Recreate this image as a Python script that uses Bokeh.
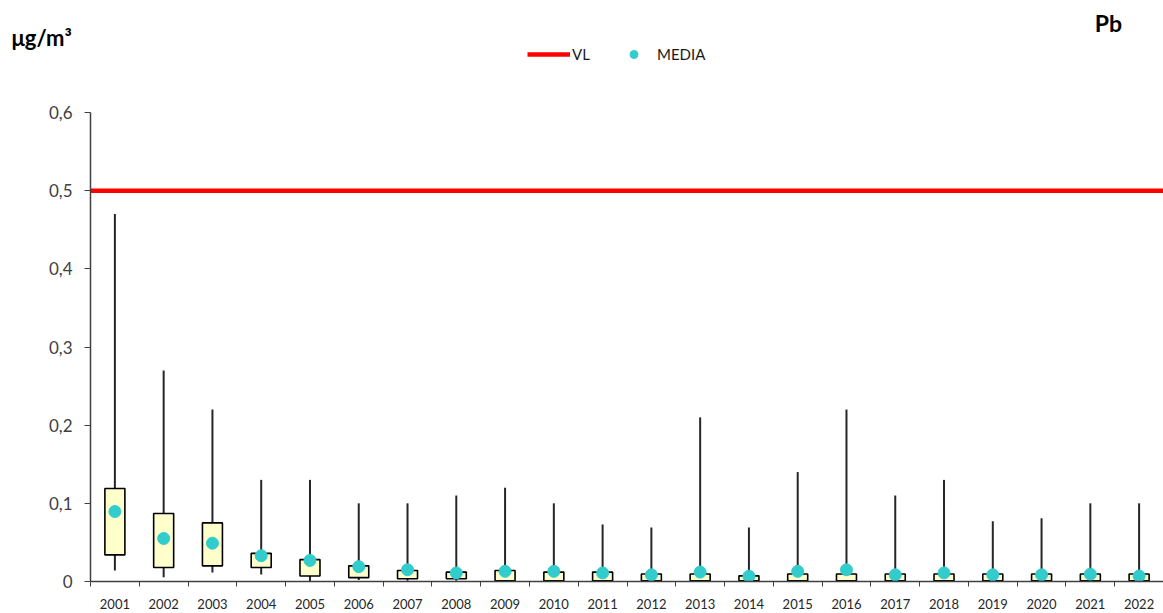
from bokeh.plotting import figure
from bokeh.layouts import column
from bokeh.models import (Range1d, FixedTicker, CustomJSTickFormatter, Label,
                          Legend, LegendItem, ColumnDataSource)
from bokeh.embed import file_html
from bokeh.resources import INLINE

years = [str(y) for y in range(2001, 2023)]
max_v = [0.47, 0.27, 0.22, 0.13, 0.13, 0.10, 0.10, 0.11, 0.12, 0.10, 0.073,
         0.069, 0.21, 0.069, 0.14, 0.22, 0.11, 0.13, 0.077, 0.081, 0.10, 0.10]
q3_v = [0.119, 0.087, 0.075, 0.036, 0.028, 0.020, 0.014, 0.012, 0.014, 0.012,
        0.012, 0.0095, 0.0095, 0.0072, 0.0095, 0.0095, 0.0095, 0.0095, 0.0095,
        0.0095, 0.0095, 0.0095]
q1_v = [0.034, 0.018, 0.020, 0.018, 0.007, 0.005, 0.0035, 0.0035, 0.001, 0.001,
        0.001, 0.001, 0.001, 0.001, 0.001, 0.001, 0.001, 0.001, 0.001, 0.001,
        0.001, 0.001]
min_v = [0.014, 0.0055, 0.0115, 0.009, 0.0005, 0.002, 0.001, 0.001, 0.0005,
         0.0005, 0.0005, 0.0005, 0.0005, 0.0005, 0.0005, 0.0005, 0.0005, 0.0005,
         0.0005, 0.0005, 0.0005, 0.0005]
mean_v = [0.0895, 0.055, 0.049, 0.033, 0.027, 0.019, 0.015, 0.011, 0.013, 0.013,
          0.011, 0.0085, 0.012, 0.0068, 0.013, 0.015, 0.0085, 0.011, 0.0085,
          0.0085, 0.0094, 0.007]
vl_value = 0.5
y_ticks = [0, 0.1, 0.2, 0.3, 0.4, 0.5, 0.6]

FONT = "Lato"
TXT = "#404040"
RED = "#FF0000"
TEAL = "#33CCCC"

xpos = list(range(1, len(years) + 1))

# ---------------- header (unit, legend, pollutant) ----------------
head = figure(width=1163, height=100, x_range=Range1d(0, 1163),
              y_range=Range1d(100, 0), output_backend="svg",
              toolbar_location=None, min_border=0,
              x_axis_type=None, y_axis_type=None)
head.frame_align = False
head.grid.visible = False
head.outline_line_color = None
# invisible renderers only used to draw the legend samples
head_vl = head.line(x=xpos, y=[vl_value] * len(xpos), line_color=RED,
                    line_width=4.5, visible=False)
head_mean = head.scatter(x=xpos, y=mean_v, size=12, fill_color=TEAL,
                         line_color=TEAL, visible=False)
legend = Legend(items=[LegendItem(label="VL", renderers=[head_vl]),
                       LegendItem(label="MEDIA", renderers=[head_mean])],
                orientation="horizontal", location=(527, 36),
                glyph_width=43, glyph_height=20, label_standoff=2, spacing=20,
                padding=0, margin=0, border_line_color=None,
                background_fill_alpha=0, inactive_fill_alpha=0,
                label_text_font=FONT, label_text_font_size="15px",
                label_text_color="#1a1a1a", label_height=20)
head.add_layout(legend, "center")
head.add_layout(Label(x=11, y=37, text="μg/m³", text_font=FONT,
                      text_font_style="bold", text_font_size="22px",
                      text_baseline="middle", text_color="#000000"))
head.add_layout(Label(x=1108, y=22, text="Pb", text_font=FONT,
                      text_font_style="bold", text_font_size="23px",
                      text_baseline="middle", text_align="center",
                      text_color="#000000"))

# ---------------- main chart ----------------
src = ColumnDataSource(dict(x=xpos, year=years, mx=max_v, q3=q3_v, q1=q1_v,
                            mn=min_v, mean=mean_v))

p = figure(width=1163, height=513, x_range=Range1d(0.5, len(years) + 0.5),
           y_range=Range1d(0, 0.6), output_backend="svg", toolbar_location=None,
           min_border_left=90, min_border_right=0, min_border_top=12,
           min_border_bottom=32)
p.frame_align = False
p.outline_line_color = None
p.xgrid.visible = False
p.ygrid.visible = False

# whiskers
p.segment(x0="x", y0="mn", x1="x", y1="mx", source=src, line_color="#262626",
          line_width=2)
# boxes
p.vbar(x="x", width=0.41, bottom="q1", top="q3", source=src,
       fill_color="#FFFFCC", line_color="#000000", line_width=1.6)
# VL line
p.line(x=[0.5, len(years) + 0.5], y=[vl_value, vl_value],
       line_color=RED, line_width=4.5)
# mean points
p.scatter(x="x", y="mean", source=src, size=12, fill_color=TEAL,
          line_color=TEAL)

# axes
p.xaxis.ticker = FixedTicker(ticks=xpos,
                             minor_ticks=[i + 0.5 for i in range(len(years) + 1)])
p.xaxis.formatter = CustomJSTickFormatter(args=dict(labels=years),
                                          code="return labels[Math.round(tick)-1];")
p.xaxis.major_tick_out = 0
p.xaxis.major_tick_in = 0
p.xaxis.minor_tick_out = 5
p.xaxis.minor_tick_in = 0
p.xaxis.minor_tick_line_color = TXT
p.xaxis.axis_line_color = TXT
p.xaxis.axis_line_width = 1.5
p.xaxis.major_label_text_font = FONT
p.xaxis.major_label_text_font_size = "13px"
p.xaxis.major_label_text_color = "#262626"
p.xaxis.major_label_standoff = 12

p.yaxis.ticker = FixedTicker(ticks=y_ticks)
p.yaxis.formatter = CustomJSTickFormatter(
    code="return tick == 0 ? '0' : tick.toFixed(1).replace('.', ',');")
p.yaxis.major_tick_out = 6
p.yaxis.major_tick_in = 0
p.yaxis.minor_tick_out = 0
p.yaxis.minor_tick_in = 0
p.yaxis.major_tick_line_color = TXT
p.yaxis.axis_line_color = TXT
p.yaxis.axis_line_width = 1.5
p.yaxis.major_label_text_font = FONT
p.yaxis.major_label_text_font_size = "17px"
p.yaxis.major_label_text_color = TXT
p.yaxis.major_label_standoff = 12

open("out.html", "w").write(file_html(column(head, p, spacing=0), INLINE))
